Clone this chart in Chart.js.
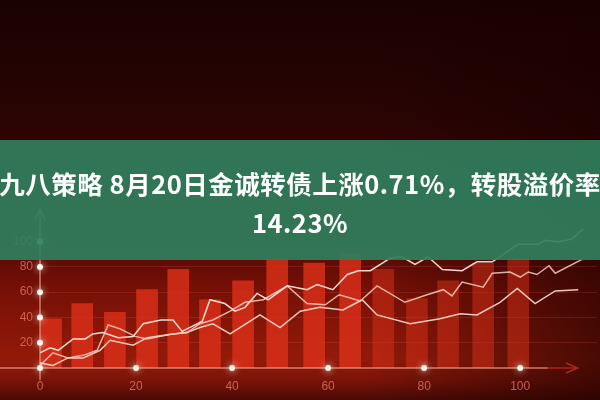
<!DOCTYPE html>
<html>
<head>
<meta charset="utf-8">
<script src="https://cdn.jsdelivr.net/npm/chart.js@4/dist/chart.umd.min.js"></script>
<style>
  html, body { margin: 0; padding: 0; background: #1a0202; }
  #wrap {
    position: relative; width: 600px; height: 400px; overflow: hidden;
    background:
      linear-gradient(to right, rgba(0,0,0,0) 0%, rgba(0,0,0,0) 62%, rgba(25,0,0,0.6) 100%),
      linear-gradient(to bottom, #1a0202 0%, #2a0403 30%, #4a0704 58%, #761006 72%, #931a09 90%, #7a1408 95%, #4a0a04 100%);
  }
  #band {
    position: absolute; left: 0; top: 140px; width: 600px; height: 120px;
    background: rgba(48, 127, 92, 0.92);
    color: #fff; font-family: "Noto Sans CJK SC", sans-serif; font-weight: 700;
    font-size: 25.5px; line-height: 39px; text-align: center;
    box-sizing: border-box; padding-top: 23px; overflow: hidden;
  }
  #band div { white-space: nowrap; width: 700px; margin-left: -50px; letter-spacing: 0.5px; }
</style>
</head>
<body>
<div id="wrap">
  <canvas id="grafico"></canvas>
  <div id="band">
    <div>九八策略 8月20日金诚转债上涨0.71%，转股溢价率</div>
    <div>14.23%</div>
  </div>
</div>
<script>
// barras
const barX = [2.3, 8.8, 15.6, 22.3, 28.8, 35.4, 42.3, 49.4, 57.1, 64.6, 71.5, 78.5, 85.0, 92.3, 99.6];
const barValues = [39, 51, 44, 62, 78, 54, 69, 86, 83, 91, 78, 55, 69, 83, 87];

// linha de cima
const linhaAX = [0, 2.1, 3.8, 6.9, 9.4, 11.0, 13.1, 16.3, 19.4, 21.5, 25.2, 27.7, 29.6, 33.8, 35.4, 38.5, 40.6, 42.7, 45.2, 47.5, 51.5, 55.6, 57.7, 61.0, 64.0, 66.3, 68.8, 71.3, 72.9, 75.4, 78.1, 80.8, 83.8, 87.9, 91.0, 94.2, 99.6, 103.8, 105.2, 107.9, 110.8, 113.1];
const linhaAY = [12, 16, 14, 23, 23, 27, 28, 24, 25, 35, 38, 38, 29, 37, 54, 51, 45, 48, 59, 54, 65, 62, 66, 62, 74, 77, 77, 83, 87, 88, 82, 88, 78, 77, 84, 84, 98, 98, 101, 100, 102, 110];

// linha do meio
const linhaBX = [0, 2.7, 5.8, 9.0, 11.9, 14.2, 16.7, 19.8, 22.3, 27.7, 30.6, 33.3, 36.0, 39.6, 42.7, 46.5, 51.5, 55.6, 59.4, 62.3, 66.7, 70.2, 76.0, 80.6, 84.0, 85.8, 87.9, 92.3, 94.2, 97.9, 100.0, 101.7, 103.5, 106.0, 107.3, 112.9];
const linhaBY = [2, 12, 8, 10, 14, 34, 31, 25, 23, 27, 28, 35, 38, 45, 52, 54, 65, 51, 50, 58, 53, 65, 52, 58, 62, 57, 68, 64, 75, 76, 72, 76, 74, 81, 75, 86];

// linha de baixo
const linhaCX = [0, 2.7, 5.8, 9.0, 12.5, 14.6, 19.4, 22.3, 27.7, 30.6, 33.3, 36.0, 39.6, 45.8, 50.0, 54.2, 58.3, 63.1, 67.1, 70.2, 77.1, 83.3, 87.5, 91.0, 95.8, 99.4, 103.1, 107.3, 112.1];
const linhaCY = [4, 2, 8, 8, 14, 22, 18, 24, 27, 28, 32, 35, 27, 42, 32, 45, 48, 46, 54, 42, 35, 39, 43, 42, 52, 63, 51, 61, 62];

const pares = (xs, ys) => xs.map((x, i) => ({ x: x, y: ys[i] }));

const ctx = document.getElementById('grafico').getContext('2d');

const decoracaoEixos = {
  id: 'decoracaoEixos',
  afterDatasetsDraw(chart) {
    const c = chart.ctx;
    const sx = chart.scales.x, sy = chart.scales.y;
    const x0 = sx.getPixelForValue(0), y0 = sy.getPixelForValue(0);
    const xFim = sx.getPixelForValue(112), yFim = sy.getPixelForValue(126);
    c.save();
    c.strokeStyle = 'rgba(245,160,140,0.75)';
    c.lineWidth = 1.5;
    c.beginPath();
    c.moveTo(0, y0); c.lineTo(xFim - 30, y0);
    c.stroke();
    c.strokeStyle = 'rgba(170,45,30,0.9)';
    c.beginPath();
    c.moveTo(xFim - 30, y0); c.lineTo(xFim, y0);
    c.moveTo(xFim - 12, y0 - 5); c.lineTo(xFim, y0); c.lineTo(xFim - 12, y0 + 5);
    c.stroke();
    c.strokeStyle = 'rgba(240,170,150,0.7)';
    c.beginPath();
    c.moveTo(x0, y0 + 12); c.lineTo(x0, yFim);
    c.moveTo(x0 - 5, yFim + 12); c.lineTo(x0, yFim); c.lineTo(x0 + 5, yFim + 12);
    c.stroke();
    c.fillStyle = '#fff6ee';
    c.shadowColor = 'rgba(255,255,240,0.95)';
    c.shadowBlur = 7;
    sx.ticks.forEach(t => {
      c.beginPath(); c.arc(sx.getPixelForValue(t.value), y0, 3, 0, Math.PI * 2); c.fill();
    });
    sy.ticks.forEach(t => {
      c.beginPath(); c.arc(x0, sy.getPixelForValue(t.value), 3, 0, Math.PI * 2); c.fill();
    });
    c.restore();
  }
};

const linha = (rotulo, xs, ys, cor) => ({
  type: 'line',
  label: rotulo,
  data: pares(xs, ys),
  borderColor: cor,
  borderWidth: 1.5,
  pointRadius: 0,
  tension: 0,
  order: 1
});

new Chart(ctx, {
  type: 'bar',
  data: {
    datasets: [
      linha('A', linhaAX, linhaAY, 'rgba(255,236,226,0.92)'),
      linha('B', linhaBX, linhaBY, 'rgba(255,212,200,0.82)'),
      linha('C', linhaCX, linhaCY, 'rgba(255,228,215,0.88)'),
      {
        type: 'bar',
        label: 'barras',
        data: pares(barX, barValues),
        barThickness: 21,
        backgroundColor: (c) => {
          const v = c.raw ? c.raw.x : 0;
          const a = v > 70 ? 0.5 : 0.82;
          return `rgba(218,48,24,${a})`;
        },
        borderWidth: 0,
        order: 2
      }
    ]
  },
  options: {
    responsive: true,
    maintainAspectRatio: false,
    animation: false,
    layout: { padding: { top: 4, right: 3, left: 0, bottom: 0 } },
    plugins: { legend: { display: false }, tooltip: { enabled: false } },
    scales: {
      x: {
        type: 'linear',
        min: 0, max: 116,
        offset: false,
        grid: { display: false },
        border: { display: false },
        afterFit: (s) => { s.height = 32; },
        ticks: {
          stepSize: 20, includeBounds: false, padding: 3,
          color: 'rgba(228,118,96,0.8)',
          font: { family: 'Liberation Sans', size: 12 }
        }
      },
      y: {
        min: 0, max: 280,
        grid: {
          color: 'rgba(255,120,95,0.16)',
          drawTicks: false
        },
        border: { display: false },
        afterFit: (s) => { s.width = 40; },
        afterBuildTicks: (s) => { s.ticks = s.ticks.filter(t => t.value > 0 && t.value <= 100); },
        ticks: {
          stepSize: 20, includeBounds: false, padding: 7,
          color: 'rgba(228,118,96,0.8)',
          font: { family: 'Liberation Sans', size: 12 }
        }
      }
    }
  },
  plugins: [decoracaoEixos]
});
</script>
</body>
</html>
